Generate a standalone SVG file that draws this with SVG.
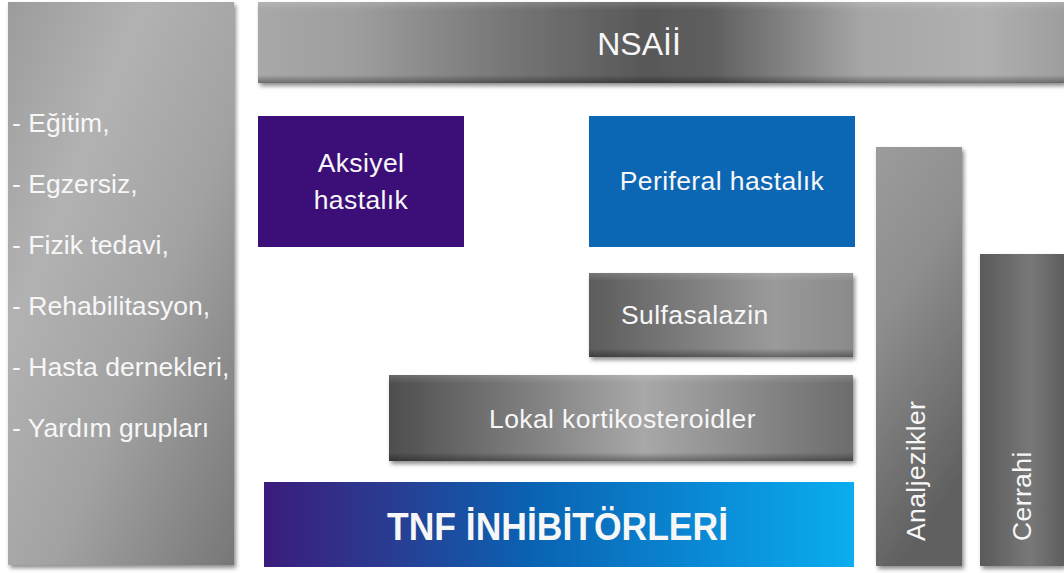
<svg xmlns="http://www.w3.org/2000/svg" width="1064" height="573" viewBox="0 0 1064 573">
<style>
.t{font-family:"Liberation Sans",Arial,Helvetica,sans-serif;font-size:26.5px;letter-spacing:0.4px;fill:#f7f7f7}
.l{letter-spacing:0.05px}
.b{font-weight:bold;letter-spacing:0}
</style>
<defs>
<filter id="sh" x="-10%" y="-10%" width="125%" height="130%">
<feDropShadow dx="2" dy="3" stdDeviation="2" flood-color="#000" flood-opacity="0.45"/>
</filter>
<linearGradient id="gLeft" x1="0" y1="0" x2="1" y2="1">
<stop offset="0" stop-color="#9c9c9c"/>
<stop offset="0.3" stop-color="#b2b2b2"/>
<stop offset="0.6" stop-color="#a2a2a2"/>
<stop offset="1" stop-color="#777"/>
</linearGradient>
<linearGradient id="gNsa" x1="0" y1="0" x2="1" y2="0">
<stop offset="0" stop-color="#a8a8a8"/>
<stop offset="0.12" stop-color="#9e9e9e"/>
<stop offset="0.3" stop-color="#787878"/>
<stop offset="0.48" stop-color="#585858"/>
<stop offset="0.56" stop-color="#5e5e5e"/>
<stop offset="0.75" stop-color="#a6a6a6"/>
<stop offset="0.9" stop-color="#b0b0b0"/>
<stop offset="1" stop-color="#9e9e9e"/>
</linearGradient>
<linearGradient id="gShade" x1="0" y1="0" x2="0" y2="1">
<stop offset="0" stop-color="#fff" stop-opacity="0.15"/>
<stop offset="0.1" stop-color="#fff" stop-opacity="0"/>
<stop offset="0.9" stop-color="#000" stop-opacity="0"/>
<stop offset="1" stop-color="#000" stop-opacity="0.35"/>
</linearGradient>
<linearGradient id="gSul" x1="0" y1="0" x2="1" y2="0">
<stop offset="0" stop-color="#5c5c5c"/>
<stop offset="0.7" stop-color="#9a9a9a"/>
<stop offset="1" stop-color="#8a8a8a"/>
</linearGradient>
<linearGradient id="gLok" x1="0" y1="0" x2="1" y2="0">
<stop offset="0" stop-color="#4e4e4e"/>
<stop offset="0.55" stop-color="#a8a8a8"/>
<stop offset="1" stop-color="#6c6c6c"/>
</linearGradient>
<linearGradient id="gTnf" x1="0" y1="0" x2="1" y2="0">
<stop offset="0" stop-color="#3b1c7c"/>
<stop offset="0.2" stop-color="#2b3a90"/>
<stop offset="0.45" stop-color="#0a62b2"/>
<stop offset="0.75" stop-color="#0a8ad6"/>
<stop offset="1" stop-color="#0aaeee"/>
</linearGradient>
<linearGradient id="gAna" x1="0" y1="0" x2="0.3" y2="1">
<stop offset="0" stop-color="#9c9c9c"/>
<stop offset="0.4" stop-color="#8e8e8e"/>
<stop offset="1" stop-color="#606060"/>
</linearGradient>
<linearGradient id="gCer" x1="0" y1="0" x2="1" y2="0">
<stop offset="0" stop-color="#5a5a5a"/>
<stop offset="0.6" stop-color="#787878"/>
<stop offset="1" stop-color="#5e5e5e"/>
</linearGradient>
</defs>
<rect width="1064" height="573" fill="#fff"/>
<g id="connectors"/>
<g id="node-left">
<rect x="8" y="2" width="226" height="563" fill="url(#gLeft)" filter="url(#sh)"/>
<text class="t l" x="12" y="132">- Eğitim,</text>
<text class="t l" x="12" y="193">- Egzersiz,</text>
<text class="t l" x="12" y="254">- Fizik tedavi,</text>
<text class="t l" x="12" y="315">- Rehabilitasyon,</text>
<text class="t l" x="12" y="376">- Hasta dernekleri,</text>
<text class="t l" x="12" y="437">- Yardım grupları</text>
</g>
<g id="node-nsaii">
<rect x="258" y="2" width="806" height="81" fill="url(#gNsa)" filter="url(#sh)"/>
<rect x="258" y="2" width="806" height="81" fill="url(#gShade)"/>
<text class="t" x="639" y="55" text-anchor="middle" style="font-size:32px;letter-spacing:0">NSAİİ</text>
</g>
<g id="node-aksiyel">
<rect x="258" y="116" width="206" height="131" fill="#3c0f78"/>
<text class="t" x="361" y="172" text-anchor="middle">Aksiyel</text>
<text class="t" x="361" y="209" text-anchor="middle">hastalık</text>
</g>
<g id="node-periferal">
<rect x="589" y="116" width="266" height="131" fill="#0b66b3"/>
<text class="t" x="722" y="190" text-anchor="middle">Periferal hastalık</text>
</g>
<g id="node-sulfasalazin">
<rect x="589" y="273" width="264" height="84" fill="url(#gSul)" filter="url(#sh)"/>
<rect x="589" y="273" width="264" height="84" fill="url(#gShade)"/>
<text class="t" x="621" y="324">Sulfasalazin</text>
</g>
<g id="node-lokal">
<rect x="389" y="375" width="464" height="86" fill="url(#gLok)" filter="url(#sh)"/>
<rect x="389" y="375" width="464" height="86" fill="url(#gShade)"/>
<text class="t" x="489" y="428">Lokal kortikosteroidler</text>
</g>
<g id="node-tnf">
<rect x="264" y="482" width="590" height="85" fill="url(#gTnf)"/>
<text class="t b" x="387" y="540" style="font-size:38px" textLength="341" lengthAdjust="spacingAndGlyphs">TNF İNHİBİTÖRLERİ</text>
</g>
<g id="node-analjezikler">
<rect x="876" y="147" width="86" height="419" fill="url(#gAna)" filter="url(#sh)"/>
<text class="t" transform="translate(925,541) rotate(-90)">Analjezikler</text>
</g>
<g id="node-cerrahi">
<rect x="980" y="254" width="84" height="312" fill="url(#gCer)" filter="url(#sh)"/>
<text class="t" transform="translate(1031,541) rotate(-90)">Cerrahi</text>
</g>
</svg>
